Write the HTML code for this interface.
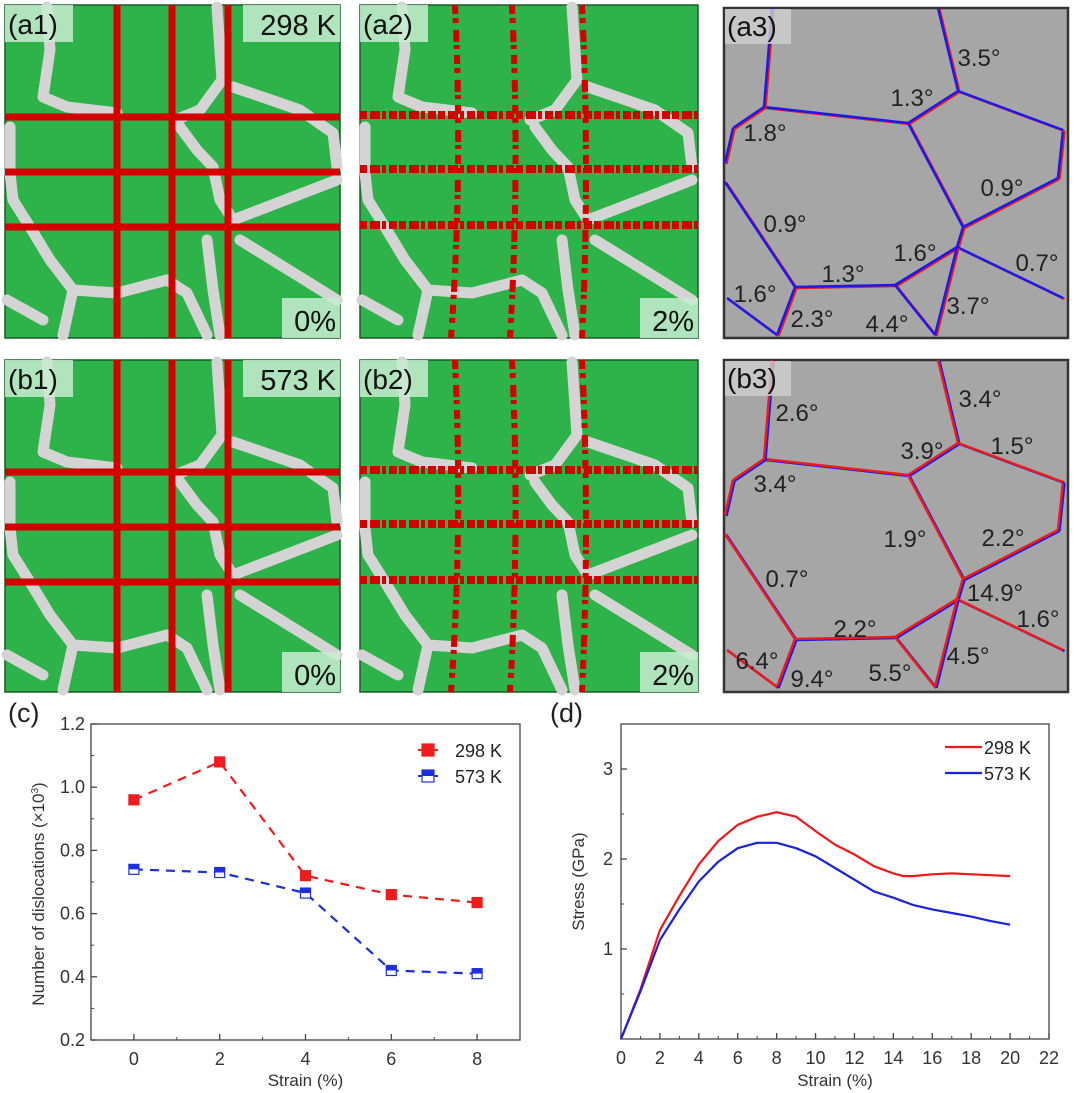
<!DOCTYPE html>
<html><head><meta charset="utf-8"><style>
html,body{margin:0;padding:0;background:#fff;}
svg{display:block;font-family:"Liberation Sans",Arial,sans-serif;}
</style></head><body>
<svg id="fig" width="1080" height="1093" viewBox="0 0 1080 1093">
<g id="atom-panels"></g>
<g id="gb-panels"></g>
<g id="chart-c"></g>
<g id="chart-d"></g>
</svg>
<script>
// ===== chart (c) data =====
const cStrain = [0, 2, 4, 6, 8];
const c298 = [0.96, 1.08, 0.72, 0.66, 0.635];
const c573 = [0.74, 0.73, 0.665, 0.42, 0.41];
const cXTicks = [0, 2, 4, 6, 8];
const cYTicks = [0.2, 0.4, 0.6, 0.8, 1.0, 1.2];
const cYTickLabels = ["0.2", "0.4", "0.6", "0.8", "1.0", "1.2"];
// ===== chart (d) data =====
const dStrain = [0, 1, 2, 3, 4, 5, 6, 7, 8, 9, 10, 11, 12, 13, 14, 14.5, 15, 16, 17, 18, 19, 20];
const d298 = [0, 0.55, 1.21, 1.59, 1.94, 2.2, 2.38, 2.47, 2.52, 2.47, 2.31, 2.16, 2.05, 1.92, 1.84, 1.81, 1.81, 1.83, 1.84, 1.83, 1.82, 1.81];
const d573 = [0, 0.53, 1.10, 1.44, 1.75, 1.97, 2.12, 2.18, 2.18, 2.12, 2.03, 1.90, 1.77, 1.64, 1.57, 1.53, 1.49, 1.44, 1.40, 1.36, 1.31, 1.27];
const dXTicks = [0, 2, 4, 6, 8, 10, 12, 14, 16, 18, 20, 22];
const dYTicks = [1, 2, 3];

const NS = "http://www.w3.org/2000/svg";
function mk(parent, tag, attrs, text) {
  const e = document.createElementNS(NS, tag);
  for (const k in attrs) e.setAttribute(k, attrs[k]);
  if (text !== undefined) e.textContent = text;
  parent.appendChild(e);
  return e;
}

// ===== atomistic panels =====
const gbLines = [
  [[42,2],[45,45],[38,92],[62,102],[112,108]],
  [[212,2],[217,75],[195,105],[170,115]],
  [[228,82],[295,105],[328,128],[332,162]],
  [[175,122],[192,145],[208,162],[215,195],[228,215],[332,175]],
  [[5,122],[5,168],[8,195],[25,222],[45,255],[68,285],[112,288],[162,275],[182,288],[202,330]],
  [[68,285],[58,330]],
  [[2,295],[38,315]],
  [[235,235],[295,272],[332,295]],
  [[202,235],[208,285],[215,330]]
];
const apanels = [
  {x:5, y:5, w:335, h:333, label:"(a1)", temp:"298 K", strain:"0%", mode:0},
  {x:360, y:5, w:338, h:333, label:"(a2)", temp:null, strain:"2%", mode:1},
  {x:5, y:360, w:335, h:332, label:"(b1)", temp:"573 K", strain:"0%", mode:0},
  {x:360, y:360, w:338, h:332, label:"(b2)", temp:null, strain:"2%", mode:1}
];
const ag = document.getElementById('atom-panels');
apanels.forEach((p, i) => {
  const g = mk(ag, 'g', {transform:`translate(${p.x},${p.y})`});
  
  
  mk(g, 'rect', {x:0, y:0, width:p.w, height:p.h, fill:'#2db34a', stroke:'#1c5a2a', 'stroke-width':1.5});
  gbLines.forEach(l => {
    mk(g, 'polyline', {points:l.map(q=>q.join(',')).join(' '), fill:'none', stroke:'#d4d4d4', 'stroke-width':11, 'stroke-linejoin':'round', 'stroke-linecap':'round'});
  });
  if (p.mode === 0) {
    [112,167,223].forEach(x => mk(g, 'line', {x1:x, y1:0, x2:x, y2:p.h, stroke:'#d40000', 'stroke-width':7}));
    [112,167,222].forEach(y => mk(g, 'line', {x1:0, y1:y, x2:p.w, y2:y, stroke:'#d40000', 'stroke-width':7}));
  } else {
    [95,152,222].forEach((x,k) => mk(g, 'path', {d:`M${x},0 Q${x+8},${p.h/2} ${x-4+k*2},${p.h}`, fill:'none', stroke:'#d40000', 'stroke-width':6, 'stroke-dasharray':'9 4 5 7 12 3 4 6'}));
    [110,164,220].forEach(y => mk(g, 'line', {x1:0, y1:y, x2:p.w, y2:y, stroke:'#d40000', 'stroke-width':8, 'stroke-dasharray':'7 3 10 2 4 3 8 2'}));
  }
  mk(g, 'rect', {x:0, y:0, width:68, height:37, fill:'#c8ecd0', opacity:0.85});
  const lt = mk(g, 'text', {x:3, y:29, 'font-size':28, fill:'#111'}, p.label);
  
  
  if (p.temp) {
    mk(g, 'rect', {x:p.w-97, y:0, width:97, height:37, fill:'#c8ecd0', opacity:0.85});
    const tt = mk(g, 'text', {x:p.w-4, y:30, 'font-size':29, fill:'#111', 'text-anchor':'end'}, p.temp);
    
    
  }
  mk(g, 'rect', {x:p.w-58, y:p.h-40, width:58, height:40, fill:'#c8ecd0', opacity:0.85});
  const st = mk(g, 'text', {x:p.w-4, y:p.h-7, 'font-size':29, fill:'#111', 'text-anchor':'end'}, p.strain);
  
  
});

// ===== grain-boundary panels =====
const V = {A:[938,8],B:[958,91],C:[908,123],D:[764,107],Dt:[772,8],E:[733,128],El:[725,163],F:[725,182],G:[795,287],H:[895,285],I:[957,247],J:[963,227],K:[1063,130],L:[1058,178],M:[1063,298],N:[777,335],O:[935,335],Lb:[727,298]};
const edges = [["A","B"],["B","C"],["C","D"],["D","Dt"],["D","E"],["E","El"],["F","G"],["G","H"],["H","I"],["I","J"],["J","C"],["J","L"],["L","K"],["K","B"],["I","M"],["G","N"],["H","O"],["I","O"],["Lb","N"]];
const gpanels = [
  {dy:0, top:8, h:330, label:"(a3)", front:'#1a1aee', back:'#ee1a1a',
   tags:[["3.5°",979,57],["1.3°",912,97],["1.8°",765,132],["0.9°",1002,187],["0.9°",785,223],["1.6°",915,252],["0.7°",1037,262],["1.3°",843,273],["1.6°",755,293],["2.3°",812,318],["4.4°",887,323],["3.7°",968,305]]},
  {dy:352, top:360, h:332, label:"(b3)", front:'#ee1a1a', back:'#1a1aee',
   tags:[["2.6°",797,412],["3.4°",980,398],["3.9°",922,450],["1.5°",1012,445],["3.4°",775,483],["1.9°",905,538],["2.2°",1003,537],["0.7°",787,578],["14.9°",995,592],["1.6°",1038,618],["2.2°",855,628],["6.4°",757,660],["9.4°",812,678],["5.5°",890,672],["4.5°",968,655]]}
];
const gg = document.getElementById('gb-panels');
gpanels.forEach(p => {
  const g = mk(gg, 'g', {});
  
  
  mk(g, 'rect', {x:724, y:p.top, width:344, height:p.h, fill:'#a6a6a6', stroke:'#333', 'stroke-width':2.5});
  edges.forEach(e => {
    const a = V[e[0]], b = V[e[1]];
    mk(g, 'line', {x1:a[0]+1.5, y1:a[1]+p.dy+1, x2:b[0]+1.5, y2:b[1]+p.dy+1, stroke:p.back, 'stroke-width':2.5});
    mk(g, 'line', {x1:a[0], y1:a[1]+p.dy, x2:b[0], y2:b[1]+p.dy, stroke:p.front, 'stroke-width':2.5});
  });
  mk(g, 'rect', {x:725, y:p.top+1, width:66, height:35, fill:'#d0d0d0', opacity:0.8});
  const lt = mk(g, 'text', {x:727, y:p.top+28, 'font-size':28, fill:'#111'}, p.label);
  
  
  p.tags.forEach(t => {
    const tx = mk(g, 'text', {x:t[1], y:t[2]+9, 'font-size':24, fill:'#222', 'text-anchor':'middle'}, t[0]);
    
    
  });
});

function lin(d0, d1, r0, r1) { return v => r0 + (v - d0) * (r1 - r0) / (d1 - d0); }

// ===== chart (c) =====
(function(){
  const g = document.getElementById('chart-c');
  const L=91, R=520, T=724, B=1040;
  const x = lin(-1, 9, L, R), y = lin(0.2, 1.2, B, T);
  const t = mk(g, 'text', {x:8, y:722, 'font-size':27, fill:'#222'}, '(c)');
   
  const box = mk(g, 'rect', {x:L, y:T, width:R-L, height:B-T, fill:'none', stroke:'#444', 'stroke-width':1.3});
   
  cXTicks.forEach(v => {
    mk(g, 'line', {x1:x(v), y1:B, x2:x(v), y2:B-6, stroke:'#444', 'stroke-width':1.3});
    const tl = mk(g, 'text', {x:x(v), y:B+25, 'font-size':18, fill:'#333', 'text-anchor':'middle'}, String(v));
     
  });
  for (let v = -1; v <= 9; v += 2) mk(g, 'line', {x1:x(v), y1:B, x2:x(v), y2:B-3, stroke:'#444', 'stroke-width':1});
  cYTicks.forEach((v,i) => {
    mk(g, 'line', {x1:L, y1:y(v), x2:L+6, y2:y(v), stroke:'#444', 'stroke-width':1.3});
    if (i > 0) mk(g, 'line', {x1:L, y1:y(v-0.1), x2:L+3, y2:y(v-0.1), stroke:'#444', 'stroke-width':1});
    const tl = mk(g, 'text', {x:L-6, y:y(v)+6, 'font-size':18, fill:'#333', 'text-anchor':'end'}, cYTickLabels[i]);
     
  });
  const xt = mk(g, 'text', {x:(L+R)/2, y:1086, 'font-size':17, fill:'#333', 'text-anchor':'middle'}, 'Strain (%)');
   
  const yt = mk(g, 'text', {x:0, y:0, 'font-size':17, fill:'#333', 'text-anchor':'middle', transform:`translate(44,${(T+B)/2+12}) rotate(-90)`});
   
  yt.appendChild(document.createTextNode('Number of dislocations (×10'));
  mk(yt, 'tspan', {'font-size':10, dy:-6}, '3');
  mk(yt, 'tspan', {dy:6}, ')');
  [[c298,'#ee1c1c','series-298k',true],[c573,'#1c2fe0','series-573k',false]].forEach(s => {
    const sg = mk(g, 'g', {});
     
    mk(sg, 'polyline', {points:cStrain.map((v,i)=>x(v)+','+y(s[0][i])).join(' '), fill:'none', stroke:s[1], 'stroke-width':2.2, 'stroke-dasharray':'9 7'});
    cStrain.forEach((v,i) => {
      const m = mk(sg, 'rect', {x:x(v)-5, y:y(s[0][i])-5, width:10, height:10, fill:s[3]?s[1]:'#fff', stroke:s[1], 'stroke-width':1.2});
       
      if (!s[3]) mk(sg, 'rect', {x:x(v)-5, y:y(s[0][i])-5, width:10, height:5, fill:s[1]});
    });
  });
  const lg = mk(g, 'g', {});
   
  [['298 K','#ee1c1c',true,750],['573 K','#1c2fe0',false,776]].forEach(e => {
    mk(lg, 'line', {x1:418, y1:e[3], x2:438, y2:e[3], stroke:e[1], 'stroke-width':2});
    mk(lg, 'rect', {x:428-6, y:e[3]-6, width:12, height:12, fill:e[2]?e[1]:'#fff', stroke:e[1], 'stroke-width':1.2});
    if (!e[2]) mk(lg, 'rect', {x:422, y:e[3]-6, width:12, height:6, fill:e[1]});
    const tx = mk(lg, 'text', {x:455, y:e[3]+7, 'font-size':18, fill:'#222'}, e[0]);
     
  });
})();

// ===== chart (d) =====
(function(){
  const g = document.getElementById('chart-d');
  const L=621, R=1049, T=724, B=1039;
  const x = lin(0, 22, L, R), y = lin(0, 3.5, B, T);
  const t = mk(g, 'text', {x:550, y:722, 'font-size':27, fill:'#222'}, '(d)');
   
  const box = mk(g, 'rect', {x:L, y:T, width:R-L, height:B-T, fill:'none', stroke:'#444', 'stroke-width':1.3});
   
  dXTicks.forEach(v => {
    mk(g, 'line', {x1:x(v), y1:B, x2:x(v), y2:B-6, stroke:'#444', 'stroke-width':1.3});
    if (v < 22) mk(g, 'line', {x1:x(v+1), y1:B, x2:x(v+1), y2:B-3, stroke:'#444', 'stroke-width':1});
    const tl = mk(g, 'text', {x:x(v), y:B+25, 'font-size':18, fill:'#333', 'text-anchor':'middle'}, String(v));
     
  });
  dYTicks.forEach(v => {
    mk(g, 'line', {x1:L, y1:y(v), x2:L+6, y2:y(v), stroke:'#444', 'stroke-width':1.3});
    mk(g, 'line', {x1:L, y1:y(v-0.5), x2:L+3, y2:y(v-0.5), stroke:'#444', 'stroke-width':1});
    const tl = mk(g, 'text', {x:L-8, y:y(v)+6, 'font-size':18, fill:'#333', 'text-anchor':'end'}, String(v));
     
  });
  const xt = mk(g, 'text', {x:(L+R)/2, y:1086, 'font-size':17, fill:'#333', 'text-anchor':'middle'}, 'Strain (%)');
   
  const yt = mk(g, 'text', {x:0, y:0, 'font-size':17, fill:'#333', 'text-anchor':'middle', transform:`translate(584,${(T+B)/2}) rotate(-90)`}, 'Stress (GPa)');
   
  [[d298,'#f01818','curve-298k'],[d573,'#1a22dd','curve-573k']].forEach(s => {
    const p = mk(g, 'polyline', {points:dStrain.map((v,i)=>x(v)+','+y(s[0][i])).join(' '), fill:'none', stroke:s[1], 'stroke-width':2.2, 'stroke-linejoin':'round'});
     
  });
  const lg = mk(g, 'g', {});
   
  [['298 K','#f01818',747],['573 K','#1a22dd',773]].forEach(e => {
    mk(lg, 'line', {x1:945, y1:e[2], x2:982, y2:e[2], stroke:e[1], 'stroke-width':2.2});
    const tx = mk(lg, 'text', {x:984, y:e[2]+7, 'font-size':18, fill:'#222'}, e[0]);
     
  });
})();
</script>
</body></html>
